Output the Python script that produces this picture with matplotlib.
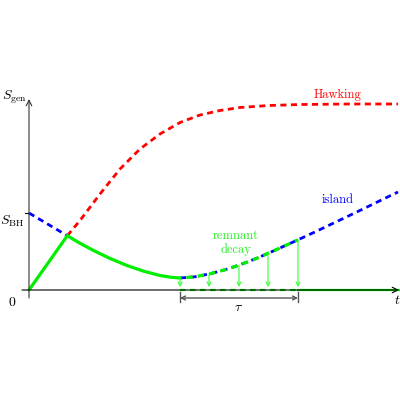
import numpy as np
import matplotlib
matplotlib.use('Agg')
import matplotlib.pyplot as plt

plt.rcParams['mathtext.fontset'] = 'cm'
plt.rcParams['font.family'] = ['cmr10', 'DejaVu Serif']
plt.rcParams['axes.formatter.use_mathtext'] = True

# values (arbitrary units: time t, entropy S)
S_BH = 7.7
t_page = 3.8
t_min = 15.1
t_end = 26.9

# green: rise then remnant decay of the curve
rise_t = [0.0, 3.83]
rise_S = [0.0, 5.43]
decay_t = [3.83, 5.0, 6.4, 8.0, 9.8, 11.5, 13.1, 14.2, 15.1]
decay_S = [5.43, 4.73, 3.98, 3.2, 2.45, 1.87, 1.45, 1.27, 1.2]

# island curve (blue)
isl_early_t = [0.0, 3.83]
isl_early_S = [7.7, 5.43]
isl_t = [15.1, 16.6, 18.1, 19.6, 21.1, 22.6, 24.1, 25.5, 26.9, 28.5, 30.1, 31.8, 33.4, 35.1, 36.9]
isl_S = [1.2, 1.32, 1.62, 2.02, 2.52, 3.1, 3.75, 4.38, 5.02, 5.76, 6.52, 7.33, 8.1, 8.93, 9.8]

# Hawking curve (red)
hawk_t = [3.83, 5.1, 7.1, 9.1, 11.1, 13.1, 15.1, 17.1, 19.1, 21.1, 24.0, 27.1, 32.0, 36.9]
hawk_S = [5.43, 6.95, 9.6, 12.1, 14.1, 15.6, 16.75, 17.5, 17.95, 18.25, 18.45, 18.55, 18.6, 18.6]

# arrows of the remnant decay
arrow_t = [15.1, 18.0, 21.0, 23.9, 26.9]

green = '#00ee00'
fig = plt.figure(figsize=(4, 4), dpi=100)
ax = fig.add_axes([0, 0, 1, 1])
ax.set_xlim(-2.9, 37.1)
ax.set_ylim(-11, 29)
ax.axis('off')

# axes with arrows
ax.annotate('', xy=(37.0, 0), xytext=(-0.7, 0),
            arrowprops=dict(arrowstyle='->', lw=0.8, color='black', shrinkA=0, shrinkB=0))
ax.annotate('', xy=(0, 19.1), xytext=(0, -0.8),
            arrowprops=dict(arrowstyle='->', lw=0.8, color='#333333', shrinkA=0, shrinkB=0))
ax.plot([-0.4, 0], [S_BH, S_BH], color='black', lw=0.8)

# curves
ax.plot(hawk_t, hawk_S, color='red', lw=2, dashes=(2.2, 1.6))
ax.plot(isl_early_t, isl_early_S, color='blue', lw=2, dashes=(2.2, 1.6))
ax.plot(isl_t, isl_S, color='blue', lw=2, dashes=(2.2, 1.6))
ax.plot(rise_t, rise_S, color=green, lw=2.3, solid_capstyle='round')
ax.plot(decay_t, decay_S, color=green, lw=2.3, solid_capstyle='round')

n = isl_t.index(t_end) + 1
ax.plot(isl_t[:n], isl_S[:n], color=green, lw=2.3, linestyle=(1.6, (2.0, 1.6)))
ax.plot([t_min, t_end], [0, 0], color=green, lw=1.6, dashes=(2.5, 2))
ax.plot([t_end, 37.0], [0, 0], color=green, lw=1.6)

for t in arrow_t:
    top = np.interp(t, isl_t, isl_S)
    ax.annotate('', xy=(t, 0.3), xytext=(t, top),
                arrowprops=dict(arrowstyle='->', lw=0.8, color='#33ff33',
                                shrinkA=0, shrinkB=0, mutation_scale=7))

# tau bracket
ax.annotate('', xy=(t_min, -0.8), xytext=(t_end, -0.8),
            arrowprops=dict(arrowstyle='<->', lw=1.0, color='#555555',
                            shrinkA=0, shrinkB=0, mutation_scale=7))
for t in [t_min, t_end]:
    ax.plot([t, t], [-0.2, -1.2], color='#555555', lw=1.0)
ax.text(21.0, -1.8, r'$\tau$', ha='center', va='center', fontsize=10)

# labels
ax.text(30.9, 19.5, 'Hawking', color='red', ha='center', va='center', fontsize=9)
ax.text(30.9, 9.0, 'island', color='blue', ha='center', va='center', fontsize=9)
ax.text(20.7, 4.7, 'remnant\ndecay', color='#22ee22', ha='center', va='center',
        fontsize=9, linespacing=1.1)
ax.text(-2.7, 19.3, r'$S_{\rm gen}$', ha='left', va='center', fontsize=10)
ax.text(-0.5, 6.9, r'$S_{\rm BH}$', ha='right', va='center', fontsize=10)
ax.text(-1.7, -1.3, '0', ha='center', va='center', fontsize=10)
ax.text(36.8, -1.0, r'$t$', ha='center', va='center', fontsize=10)

fig.savefig('out.png', dpi=100)
